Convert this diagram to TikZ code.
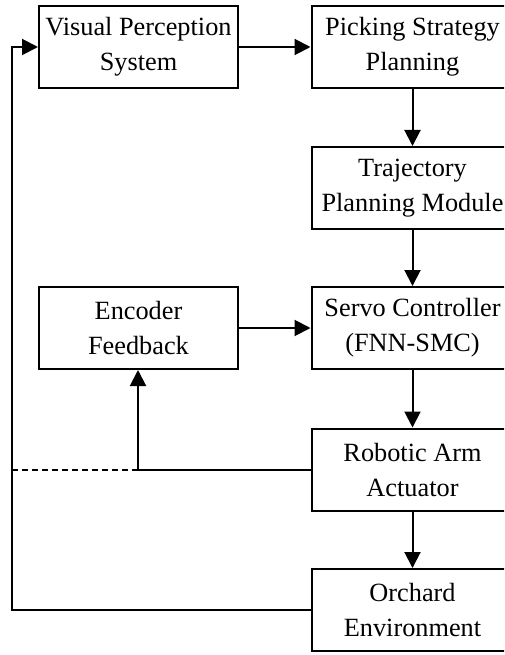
\documentclass[tikz,border=0pt]{standalone}
\usepackage{fontspec}
\setmainfont{Liberation Serif}
\usetikzlibrary{arrows.meta}
\begin{document}
\begin{tikzpicture}[x=1pt,y=-1pt,line width=2pt,
  block/.style={draw,align=center,inner sep=0pt,minimum height=82pt,
    font=\fontsize{26.3}{35}\selectfont},
  lblock/.style={block,minimum width=199pt},
  rblock/.style={block,minimum width=202pt},
  arr/.style={-{Triangle[length=16pt,width=16pt]}}]
\clip (0,0) rectangle (504,655);

\node[lblock] (vision) at (138.5,47) {Visual Perception\\System};
\node[rblock] (strategy) at (412.5,47) {Picking Strategy\\Planning};
\node[rblock] (traj) at (412.5,188) {Trajectory\\Planning Module};
\node[rblock] (servo) at (412.5,328) {Servo Controller\\(FNN-SMC)};
\node[lblock] (encoder) at (138.5,328) {Encoder\\Feedback};
\node[rblock] (arm) at (412.5,469.5) {Robotic Arm\\Actuator};
\node[rblock] (orchard) at (412.5,610) {Orchard\\Environment};

\coordinate (tap) at (138,469.5);
\coordinate (corner) at (12,610);

\draw[arr] (vision) -- (strategy);
\draw[arr] (strategy) -- (traj);
\draw[arr] (traj) -- (servo);
\draw[arr] (encoder) -- (servo);
\draw[arr] (servo) -- (arm);
\draw[arr] (arm) -- (orchard);
\draw[arr] (arm.west) -- (tap) -- (encoder.south -| tap);
\draw[dash pattern=on 6pt off 4pt] (tap) -- (tap -| corner);
\draw[arr] (orchard.west) -- (corner) |- (vision.west);
\end{tikzpicture}
\end{document}
